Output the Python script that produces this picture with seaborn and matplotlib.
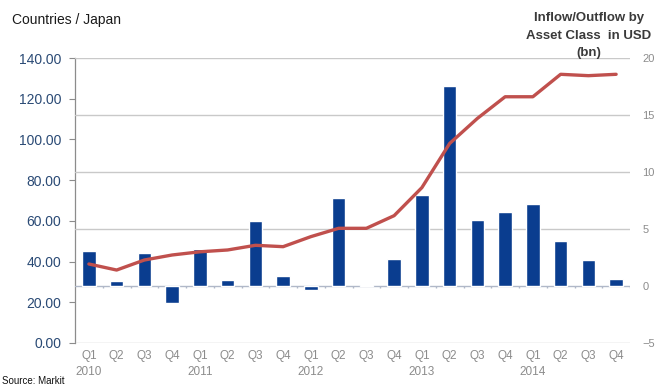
import matplotlib
matplotlib.use("Agg")
import matplotlib.pyplot as plt
import seaborn as sns
import numpy as np
import pandas as pd
from matplotlib.ticker import FormatStrFormatter

# ---- data ----
periods = ["2010Q1", "2010Q2", "2010Q3", "2010Q4",
           "2011Q1", "2011Q2", "2011Q3", "2011Q4",
           "2012Q1", "2012Q2", "2012Q3", "2012Q4",
           "2013Q1", "2013Q2", "2013Q3", "2013Q4",
           "2014Q1", "2014Q2", "2014Q3", "2014Q4"]
tick_labels = ["Q1\n2010", "Q2", "Q3", "Q4",
               "Q1\n2011", "Q2", "Q3", "Q4",
               "Q1\n2012", "Q2", "Q3", "Q4",
               "Q1\n2013", "Q2", "Q3", "Q4",
               "Q1\n2014", "Q2", "Q3", "Q4"]
flows = [3.1, 0.45, 2.87, -1.52, 3.27, 0.53, 5.73, 0.9, -0.35, 7.69,
         0.05, 2.4, 7.98, 17.57, 5.82, 6.52, 7.19, 3.95, 2.28, 0.61]
cumulative = [1.93, 1.40, 2.28, 2.72, 3.0, 3.16, 3.57, 3.45, 4.33, 5.06,
              5.06, 6.17, 8.63, 12.5, 14.7, 16.6, 16.6, 18.57, 18.45, 18.57]
left_ticks = [0, 20, 40, 60, 80, 100, 120, 140]
right_ticks = [-5, 0, 5, 10, 15, 20]
title_lines = ["Inflow/Outflow by", "Asset Class  in USD", "(bn)"]

df = pd.DataFrame({"period": periods, "flow": flows, "cum": cumulative,
                   "pos": np.arange(len(periods))})

BAR = "#0A3D8F"
LINE = "#C0504D"
GRID = "#C9C9C9"
GRAY = "#8C8C8C"

sns.set_style("white")
plt.rcParams["font.family"] = ["Liberation Sans", "DejaVu Sans"]

fig = plt.figure(figsize=(6.61, 3.87), dpi=100)
ax = fig.add_axes([75 / 661, 1 - 343 / 387, (630 - 75) / 661, (343 - 58) / 387])
ax2 = ax.twinx()

# bars and line on the right (flow) axis
sns.barplot(data=df, x="period", y="flow", order=periods, color=BAR,
            width=0.48, saturation=1, ax=ax2, zorder=3)
sns.lineplot(data=df, x="pos", y="cum", color=LINE, linewidth=2.4, ax=ax2,
             zorder=4)

ax2.set_ylim(-5, 20)
ax2.set_yticks(right_ticks)
ax2.set_xlim(-0.5, len(periods) - 0.5)
ax2.set_xlabel("")
ax2.set_ylabel("")
ax2.grid(False)
for t in right_ticks:
    if t != 0:
        ax2.axhline(t, color=GRID, lw=1.0, zorder=1)
# category axis line at zero with boundary ticks
ax2.axhline(0, color="#B0B8C8", lw=1.0, zorder=2)
ax2.vlines(np.arange(len(periods)) + 0.5, -0.2, 0, color="#B0B8C8", lw=1.0, zorder=2)
ax2.tick_params(axis="y", length=0, pad=9, labelsize=8, labelcolor=GRAY)
for s in ax2.spines.values():
    s.set_visible(False)

# left axis
ax.set_ylim(0, 140)
ax.set_yticks(left_ticks)
ax.yaxis.set_major_formatter(FormatStrFormatter("%.2f"))
ax.set_xlim(-0.5, len(periods) - 0.5)
ax.set_xticks(np.arange(len(periods)))
ax.set_xticklabels(tick_labels)
ax.tick_params(axis="y", length=4, width=0.8, color=GRAY, direction="out",
               labelsize=10, labelcolor="#2A4A75", pad=6, left=True)
ax.tick_params(axis="x", length=0, pad=5, labelsize=8.5, labelcolor=GRAY)
for lbl in ax.get_xticklabels():
    lbl.set_linespacing(1.45)
for name, s in ax.spines.items():
    s.set_visible(name == "left")
ax.spines["left"].set_color(GRAY)
ax.spines["left"].set_linewidth(0.9)

# texts
fig.text(12 / 661, 1 - 20 / 387, "Countries / Japan", fontsize=10,
         color="#1A1A1A", va="center", ha="left")
for line, ypx in zip(title_lines, [18, 36, 53]):
    fig.text(589 / 661, 1 - ypx / 387, line, fontsize=9.5, fontweight="bold",
             color="#3A3A3A", ha="center", va="center")
fig.text(2 / 661, 1 - 381 / 387, "Source: Markit", fontsize=7,
         color="#111111", va="center", ha="left")

fig.savefig("out.png", dpi=100)
